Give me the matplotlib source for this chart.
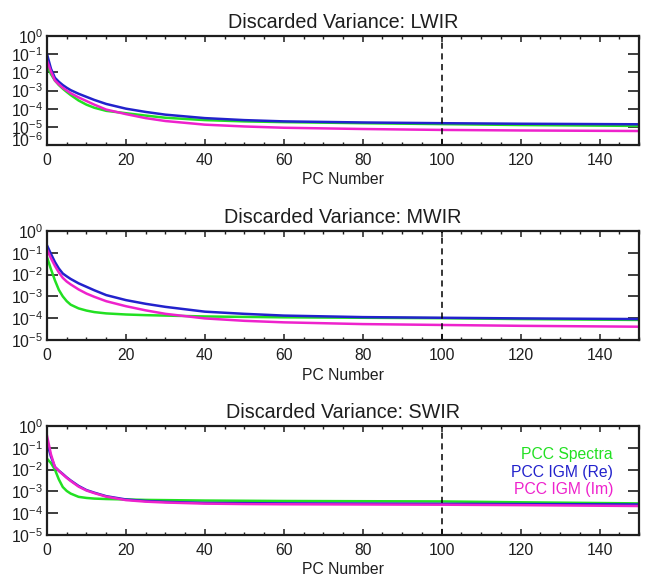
import numpy as np
import matplotlib
matplotlib.use("Agg")
import matplotlib.pyplot as plt
from matplotlib.ticker import FixedLocator, MultipleLocator

plt.rcParams['font.family'] = ['Liberation Sans', 'DejaVu Sans']
plt.rcParams['mathtext.fontset'] = 'custom'
plt.rcParams['mathtext.rm'] = 'Liberation Sans'
plt.rcParams['mathtext.default'] = 'regular'

pc = [0, 1, 2, 3, 4, 5, 6, 8, 10, 12, 15, 20, 25, 30, 40, 50, 60, 80, 100, 120, 150]

# discarded variance, stored as log10 values
lwir_spectra = [-1.6, -2.1, -2.45, -2.7, -2.9, -3.08, -3.25, -3.55, -3.78, -3.95, -4.12, -4.25, -4.38, -4.50, -4.63, -4.70, -4.74, -4.80, -4.85, -4.90, -4.95]
lwir_re = [-1.0, -1.8, -2.3, -2.52, -2.7, -2.85, -2.98, -3.18, -3.35, -3.52, -3.74, -4.0, -4.18, -4.33, -4.52, -4.63, -4.70, -4.76, -4.80, -4.83, -4.86]
lwir_im = [-1.35, -1.95, -2.45, -2.66, -2.85, -3.0, -3.15, -3.38, -3.58, -3.78, -4.05, -4.30, -4.52, -4.68, -4.88, -4.98, -5.05, -5.12, -5.17, -5.20, -5.23]

mwir_spectra = [-1.2, -1.75, -2.26, -2.7, -3.0, -3.22, -3.38, -3.55, -3.65, -3.72, -3.78, -3.83, -3.86, -3.88, -3.92, -3.94, -3.96, -3.98, -4.0, -4.04, -4.08]
mwir_re = [-0.66, -1.05, -1.42, -1.72, -1.95, -2.08, -2.2, -2.4, -2.56, -2.72, -2.94, -3.17, -3.34, -3.48, -3.70, -3.80, -3.88, -3.95, -3.98, -4.01, -4.04]
mwir_im = [-0.85, -1.25, -1.6, -1.9, -2.15, -2.32, -2.45, -2.68, -2.87, -3.02, -3.22, -3.45, -3.64, -3.80, -4.01, -4.12, -4.19, -4.27, -4.31, -4.35, -4.39]

swir_spectra = [-1.5, -1.7, -2.0, -2.45, -2.8, -2.98, -3.1, -3.25, -3.3, -3.33, -3.35, -3.37, -3.39, -3.40, -3.42, -3.43, -3.44, -3.45, -3.46, -3.50, -3.55]
swir_re = [-0.75, -1.4, -1.88, -2.05, -2.2, -2.36, -2.5, -2.75, -2.94, -3.06, -3.22, -3.37, -3.44, -3.48, -3.53, -3.54, -3.55, -3.56, -3.57, -3.58, -3.60]
swir_im = [-0.45, -1.3, -1.88, -2.06, -2.22, -2.38, -2.52, -2.78, -2.96, -3.08, -3.24, -3.40, -3.47, -3.51, -3.56, -3.58, -3.59, -3.60, -3.61, -3.63, -3.67]

bands = ["LWIR", "MWIR", "SWIR"]
series = [(lwir_spectra, lwir_re, lwir_im),
          (mwir_spectra, mwir_re, mwir_im),
          (swir_spectra, swir_re, swir_im)]
ymin_exp = [-6, -5, -5]

labels = ["PCC Spectra", "PCC IGM (Re)", "PCC IGM (Im)"]
colors = ["#22e022", "#2222cc", "#ee22cc"]
ink = "#1e1e1e"

W, H = 649, 578
fig = plt.figure(figsize=(W / 100, H / 100), dpi=100)
tops = [36, 231, 426]
left, right = 47, 639

for k, band in enumerate(bands):
    top = tops[k]
    ax = fig.add_axes([left / W, 1 - (top + 109) / H, (right - left) / W, 109 / H])
    for vals, c in zip(series[k], colors):
        ax.plot(pc, 10.0 ** np.array(vals), color=c, lw=1.8)
    ax.axvline(100, color="black", ls=(0, (4, 3)), lw=1.1)

    ax.set_yscale("log")
    ax.set_xlim(0, 150)
    ax.set_ylim(10.0 ** ymin_exp[k], 1)
    decs = list(range(0, ymin_exp[k] - 1, -1))
    ax.yaxis.set_major_locator(FixedLocator([10.0 ** d for d in decs]))
    ax.yaxis.set_minor_locator(FixedLocator([]))
    ylabs = ["$10^{%d}$" % d for d in decs]
    if k == 0:
        # bottom label sits squeezed up against the one above it
        ylabs[-1] = ""
        ax.annotate("$10^{%d}$" % decs[-1], xy=(0, 10.0 ** decs[-1]),
                    xycoords=("axes fraction", "data"), xytext=(-3, 3),
                    textcoords="offset points", ha="right", va="center",
                    fontsize=11.3, color=ink)
    ax.set_yticklabels(ylabs)
    ax.xaxis.set_major_locator(MultipleLocator(20))
    ax.xaxis.set_minor_locator(MultipleLocator(5))

    ax.tick_params(axis="both", which="both", direction="in", top=True, right=True,
                   labelsize=11.3, colors=ink)
    ax.tick_params(axis="y", which="major", length=8, width=1.2, pad=3)
    ax.tick_params(axis="x", which="major", length=4, width=1.1, pad=6)
    ax.tick_params(axis="x", which="minor", length=2.5, width=1.0)
    for sp in ax.spines.values():
        sp.set_linewidth(1.6)
        sp.set_color(ink)

    ax.set_title("Discarded Variance: " + band, fontsize=14.2, pad=6, color=ink)
    ax.set_xlabel("PC Number", fontsize=11.3, labelpad=3, color=ink)

    if k == 2:
        for j, (lab, c) in enumerate(zip(labels, colors)):
            ax.text(0.956, 0.734 - j * 0.16, lab, color=c, fontsize=11.3,
                    ha="right", va="center", transform=ax.transAxes)

fig.savefig("out.png", dpi=100)
